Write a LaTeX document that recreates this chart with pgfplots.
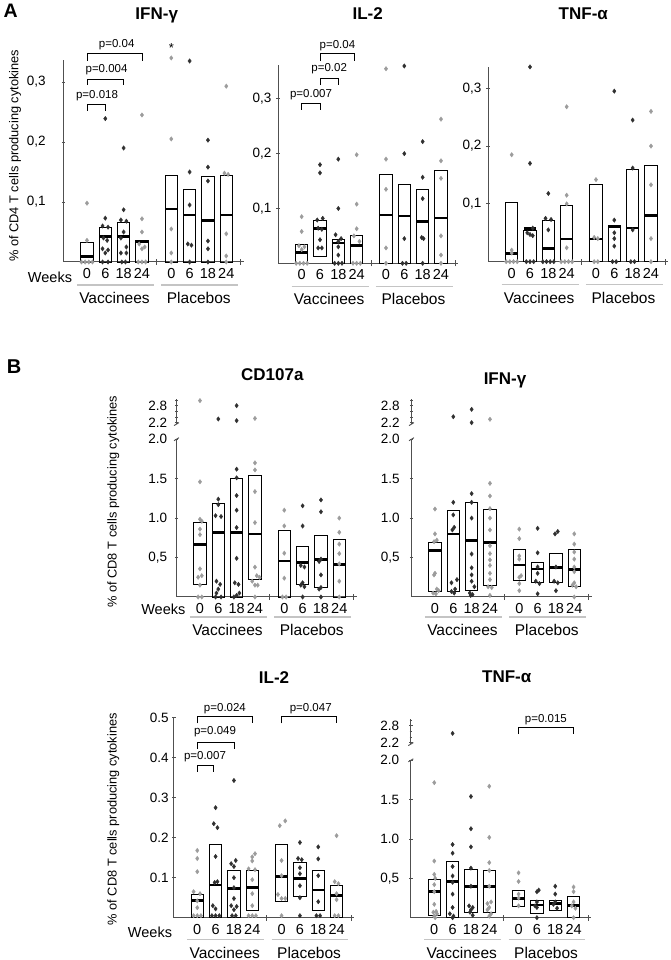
\documentclass[border=0pt]{standalone}
\usepackage{fontspec}
\setmainfont{Liberation Sans}
\usepackage{pgfplots}
\pgfplotsset{compat=1.18}
\usepgfplotslibrary{statistics}

\definecolor{axiscol}{HTML}{505050}
\definecolor{ptdark}{HTML}{303030}
\definecolor{ptgray}{HTML}{9C9C9C}
\definecolor{grpline}{HTML}{C4C4C4}

\newcommand{\tickfont}{\fontsize{13.5}{13.5}\selectfont}
\newcommand{\xfont}{\fontsize{14.5}{14.5}\selectfont}
\newcommand{\grpfont}{\fontsize{15.5}{15.5}\selectfont}
\newcommand{\titlefont}{\fontsize{17}{17}\selectfont\bfseries}
\newcommand{\ylabfont}{\fontsize{12.8}{12.8}\selectfont}
\newcommand{\pfont}{\fontsize{11.5}{11.5}\selectfont}

\pgfplotsset{
  panelbase/.style={anchor=south west, x=18.33pt, xmin=-1.28, xmax=8.55, clip=false,
    tick align=outside, major tick length=3.5pt, minor tick length=2.5pt,
    ytick style={axiscol, line width=0.8pt},
    yticklabel style={font=\tickfont, text=black}},
  nolinearrows/.style={axis line style={axiscol, line width=1pt, -},
    x axis line style={-}, y axis line style={-}},
  panel/.style={panelbase, ymin=0, axis x line=bottom, axis y line=left, nolinearrows,
    xtick={0,1,2,3,4.6,5.6,6.6,7.6}, xticklabels={0,6,18,24,0,6,18,24},
    xtick style={draw=none}, xticklabel style={font=\xfont, text=black, yshift=-1pt}},
  upper/.style={panelbase, y=28.3pt, ymin=2.15, ymax=3.05,
    axis x line=none, axis y line=left, nolinearrows, xtick=\empty,
    ytick={2.2,2.8}, yticklabels={2.2,2.8}, minor ytick={2.4,2.6,3.0}},
  dk/.style={only marks, mark=diamond*, mark size=2.2pt, color=ptdark},
  gy/.style={only marks, mark=diamond*, mark size=2.2pt, color=ptgray},
}

% box: position, lower, median, upper
\newcommand{\bx}[4]{\addplot[black, line width=0.9pt, boxplot prepared={draw direction=y, draw position=#1,
  lower whisker=#2, lower quartile=#2, median=#3, upper quartile=#4, upper whisker=#4,
  box extend=0.68, whisker extend=0, every median/.style={line width=2.6pt}}] coordinates {};}
% separator ticks, group lines and names
\newcommand{\deco}[2]{%
  \draw[axiscol, line width=0.9pt] ([yshift=-3pt]axis cs:3.8,0) -- ([yshift=3pt]axis cs:3.8,0);
  \draw[axiscol, line width=0.9pt] ([yshift=-3pt]axis cs:8.4,0) -- ([yshift=3pt]axis cs:8.4,0);
  \draw[grpline, line width=1.3pt] ([yshift=-#1pt]axis cs:-0.55,0) -- ([yshift=-#1pt]axis cs:3.65,0);
  \draw[grpline, line width=1.3pt] ([yshift=-#1pt]axis cs:4.05,0) -- ([yshift=-#1pt]axis cs:8.25,0);
  \node[font=\grpfont] at ([yshift=-#2pt]axis cs:1.5,0) {Vaccinees};
  \node[font=\grpfont] at ([yshift=-#2pt]axis cs:6.1,0) {Placebos};}
% bracket: x1, x2, top, drop, text x, text y, text
\newcommand{\br}[7]{%
  \draw[black, line width=0.7pt] (axis cs:#1,#4) |- (axis cs:#2,#3) -- (axis cs:#2,#4);
  \node[font=\pfont] at (axis cs:#5,#6) {#7};}
\newcommand{\brk}[1]{%
  \draw[axiscol, line width=0.9pt] ([xshift=-2.5pt,yshift=-1.5pt]axis cs:-1.28,#1) -- ([xshift=2.5pt,yshift=1.5pt]axis cs:-1.28,#1);}

\begin{document}
\begin{tikzpicture}
\useasboundingbox (0,0) rectangle (671pt,960pt);

% ---------- A: IFN-gamma ----------
\begin{axis}[panel, at={(63.5pt,698pt)}, y=600pt, ymax=0.337,
  ytick={0.1,0.2,0.3}, yticklabels={{0,1},{0,2},{0,3}}, yticklabel style={xshift=-12.5pt}]
\bx{0}{0}{0.009}{0.033}
\bx{1}{0}{0.042}{0.058}
\bx{2}{0}{0.042}{0.066}
\bx{3}{0}{0.034}{0.036}
\bx{4.6}{0}{0.088}{0.145}
\bx{5.6}{0}{0.078}{0.121}
\bx{6.6}{0}{0.069}{0.142}
\bx{7.6}{0}{0.078}{0.145}
\addplot[dk] coordinates {(1,0.239) (1,0.073) (0.85,0.060) (1.15,0.058) (0.9,0.040) (1.1,0.036) (0.85,0.022) (1.15,0.020) (1,0.015) (0.85,0) (1.15,0)
 (2,0.190) (2,0.087) (1.85,0.070) (2.15,0.068) (2,0.050) (1.85,0.040) (2.15,0.025) (1.85,0.015) (2.15,0.015) (1.9,0) (2.1,0)
 (5.6,0.335) (5.6,0.150) (5.6,0.095) (5.5,0.030) (5.7,0.028) (5.6,0)
 (6.6,0.203) (6.6,0.158) (6.6,0.135) (6.6,0.035) (6.6,0.022) (6.6,0)};
\addplot[gy] coordinates {(0,0.098) (0,0.036) (-0.3,0) (-0.1,0) (0.1,0) (0.3,0)
 (3,0.245) (3,0.072) (3,0.050) (2.85,0.030) (3.15,0.025) (3,0.022) (2.8,0) (3,0) (3.2,0)
 (4.6,0.340) (4.6,0.205) (4.6,0.055) (4.6,0.015) (4.6,0)
 (7.6,0.293) (7.5,0.148) (7.7,0.146) (7.6,0.047) (7.6,0.010) (7.6,0)};
\deco{23}{36}
\br{0}{1}{0.262}{0.252}{0.55}{0.278}{p=0.018}
\br{0}{2}{0.305}{0.295}{1.07}{0.320}{p=0.004}
\br{0}{3}{0.348}{0.335}{1.62}{0.362}{p=0.04}
\node[font=\fontsize{13}{13}\selectfont] at (axis cs:4.6,0.357) {*};
\end{axis}

% ---------- A: IL-2 ----------
\begin{axis}[panel, at={(278.2pt,696.7pt)}, y=548pt, ymax=0.362,
  ytick={0.1,0.2,0.3}, yticklabels={{0,1},{0,2},{0,3}}, yticklabel style={xshift=-1.5pt}]
\bx{0}{0}{0.020}{0.035}
\bx{1}{0.012}{0.063}{0.079}
\bx{2}{0}{0.037}{0.043}
\bx{3}{0}{0.033}{0.050}
\bx{4.6}{0}{0.088}{0.163}
\bx{5.6}{0}{0.086}{0.143}
\bx{6.6}{0}{0.076}{0.135}
\bx{7.6}{0}{0.083}{0.169}
\addplot[dk] coordinates {(1,0.180) (1,0.165) (1.15,0.082) (0.85,0.079) (0.9,0.064) (1.1,0.062) (1,0.043) (0.9,0.028) (1.1,0.028)
 (2,0.190) (2,0.100) (1.85,0.052) (2.15,0.045) (2,0.040) (2,0.030) (2,0.015) (1.8,0) (2,0) (2.2,0)
 (5.6,0.360) (5.6,0.200) (5.6,0.045) (5.5,0) (5.7,0)
 (6.6,0.222) (6.6,0.157) (6.6,0.118) (6.55,0.047) (6.65,0.045) (6.6,0)};
\addplot[gy] coordinates {(0,0.085) (0,0.058) (-0.15,0.032) (0.15,0.030) (0,0.025) (-0.3,0) (-0.1,0) (0.1,0) (0.3,0)
 (3,0.198) (3,0.108) (3,0.063) (2.85,0.050) (3.15,0.040) (2.8,0) (3,0) (3.2,0)
 (4.6,0.355) (4.6,0.190) (4.6,0.135) (4.6,0.028) (4.6,0)
 (7.6,0.263) (7.6,0.187) (7.6,0.155) (7.6,0.050) (7.6,0.015) (7.6,0)};
\deco{23}{36}
\br{0}{1}{0.292}{0.280}{0.51}{0.308}{p=0.007}
\br{1}{2}{0.338}{0.325}{1.50}{0.355}{p=0.02}
\br{1}{2.9}{0.383}{0.369}{1.95}{0.397}{p=0.04}
\end{axis}

% ---------- A: TNF-alpha ----------
\begin{axis}[panel, at={(488.2pt,698.3pt)}, y=578pt, ymax=0.337,
  ytick={0.1,0.2,0.3}, yticklabels={{0,1},{0,2},{0,3}}, yticklabel style={xshift=-1.5pt}]
\bx{0}{0}{0.014}{0.102}
\bx{1}{0}{0.057}{0.054}
\bx{2}{0}{0.023}{0.072}
\bx{3}{0}{0.039}{0.097}
\bx{4.6}{0}{0.039}{0.133}
\bx{5.6}{0}{0.062}{0.060}
\bx{6.6}{0}{0.058}{0.160}
\bx{7.6}{0}{0.080}{0.166}
\addplot[dk] coordinates {(1,0.337) (1,0.170) (1.15,0.058) (0.85,0.050) (1,0.047) (1.15,0.045) (0.8,0) (1,0) (1.2,0)
 (2,0.118) (1.85,0.075) (2.15,0.073) (2,0.055) (1.7,0) (1.9,0) (2.1,0) (2.3,0)
 (5.6,0.295) (5.6,0.072) (5.6,0.050) (5.6,0.040) (5.6,0.027) (5.5,0) (5.7,0)
 (6.6,0.245) (6.6,0.162) (6.6,0.055) (6.5,0) (6.7,0)};
\addplot[gy] coordinates {(0,0.185) (0,0.020) (0,0.015) (-0.3,0) (-0.1,0) (0.1,0) (0.3,0)
 (3,0.268) (3,0.115) (3,0.100) (3,0.024) (2.7,0) (2.9,0) (3.1,0) (3.3,0)
 (4.6,0.142) (4.5,0.042) (4.7,0.040) (4.5,0) (4.7,0)
 (7.6,0.260) (7.6,0.200) (7.6,0.133) (7.6,0.040) (7.6,0)};
\deco{23}{36}
\end{axis}

% ---------- B: CD107a ----------
\begin{axis}[panel, at={(176.5pt,363pt)}, y=78.9pt, ymax=2.0,
  ytick={0.5,1,1.5,2}, yticklabels={{0,5},1.0,1.5,2.0}, yticklabel style={xshift=-4pt}]
\bx{0}{0.162}{0.669}{0.943}
\bx{1}{0}{0.817}{1.18}
\bx{2}{0}{0.817}{1.505}
\bx{3}{0.22}{0.80}{1.543}
\bx{4.6}{0}{0.458}{0.842}
\bx{5.6}{0.155}{0.437}{0.64}
\bx{6.6}{0.124}{0.479}{0.779}
\bx{7.6}{0}{0.415}{0.732}
\addplot[dk] coordinates {(1,1.24) (1,1.17) (0.85,1.03) (1.15,1.02) (0.9,0.20) (1.1,0.16) (1,0.10) (0.9,0.05) (0.85,0) (1.15,0)
 (2,1.62) (2,1.51) (2,1.285) (2,1.10) (2,0.88) (2,0.49) (1.9,0.18) (2.1,0.16) (2.15,0.05) (2,0.02) (1.85,0)
 (5.6,1.155) (5.6,0.90) (5.5,0.40) (5.7,0.38) (5.6,0.18) (5.5,0.15) (5.7,0.13) (5.6,0)
 (6.6,1.23) (6.6,1.08) (6.6,0.48) (6.5,0.45) (6.6,0.28) (6.6,0.12) (6.5,0.10) (6.6,0)};
\addplot[gy] coordinates {(0,1.46) (0,0.985) (0.1,0.96) (0,0.86) (0,0.79) (0,0.357) (0.1,0.27) (-0.1,0.25) (0,0.15) (-0.1,0) (0.1,0)
 (3,1.70) (3,1.61) (3,1.336) (3,0.943) (3,0.378) (3.1,0.27) (3.25,0.25) (2.85,0.20) (3,0.15) (3.15,0.15) (3,0)
 (4.6,1.10) (4.6,0.90) (4.6,0.555) (4.6,0.238) (4.5,0) (4.7,0)
 (7.6,1.0) (7.6,0.82) (7.6,0.67) (7.6,0.55) (7.6,0.42) (7.6,0.20) (7.6,0)};
\deco{20}{33}
\brk{2}
\end{axis}
\begin{axis}[upper, at={(176.5pt,535.9pt)}, yticklabel style={xshift=-4pt}]
\addplot[dk] coordinates {(1,2.33) (2,2.80) (2,2.27)};
\addplot[gy] coordinates {(0,2.98) (3,2.35)};
\brk{2.15}
\end{axis}

% ---------- B: IFN-gamma ----------
\begin{axis}[panel, at={(411.5pt,363pt)}, y=78.9pt, ymax=2.0,
  ytick={0.5,1,1.5,2}, yticklabels={{0,5},1.0,1.5,2.0}, yticklabel style={xshift=-6.5pt}]
\bx{0}{0.076}{0.587}{0.693}
\bx{1}{0.076}{0.80}{1.098}
\bx{2}{0.089}{0.714}{1.20}
\bx{3}{0.14}{0.689}{1.11}
\bx{4.6}{0.207}{0.405}{0.604}
\bx{5.6}{0.18}{0.355}{0.44}
\bx{6.6}{0.18}{0.372}{0.553}
\bx{7.6}{0.13}{0.35}{0.604}
\addplot[dk] coordinates {(1,1.20) (1,1.04) (1.05,0.883) (0.95,0.85) (1.2,0.22) (0.9,0.18) (1.1,0.10) (0.9,0.07) (1.05,0.05)
 (2,1.31) (2,1.20) (2,1.00) (2,0.545) (2,0.37) (2,0.28) (2,0.20) (2.15,0.13) (1.9,0.05) (2.05,0.03) (1.95,0.02)
 (5.6,0.87) (5.6,0.56) (5.6,0.38) (5.6,0.30) (5.5,0.20) (5.7,0.17) (5.6,0.04)
 (6.55,0.80) (6.7,0.83) (6.6,0.38) (6.5,0.20) (6.7,0.18) (6.6,0.08)};
\addplot[gy] coordinates {(0,1.115) (0,0.80) (0.1,0.72) (-0.05,0.70) (0,0.30) (-0.05,0.28) (0.1,0.10) (0.2,0.08) (-0.1,0.05) (0.05,0.04)
 (3,1.44) (3,1.28) (3,1.12) (3,1.00) (3,0.85) (3,0.65) (3,0.55) (3,0.47) (3,0.40) (3,0.30) (3,0.22) (2.9,0.13) (3.1,0.12) (3,0.02)
 (4.6,0.86) (4.6,0.74) (4.6,0.52) (4.6,0.48) (4.7,0.27) (4.6,0.25) (4.6,0.17) (4.6,0.08)
 (7.6,0.80) (7.6,0.67) (7.6,0.57) (7.6,0.48) (7.6,0.38) (7.6,0.32) (7.6,0.18) (7.5,0.15) (7.7,0.13) (7.6,0)};
\deco{20}{33}
\brk{2}
\end{axis}
\begin{axis}[upper, at={(411.5pt,535.9pt)}, yticklabel style={xshift=-6.5pt}]
\addplot[dk] coordinates {(1,2.41) (2,2.67) (2,2.20)};
\addplot[gy] coordinates {(3,2.32)};
\brk{2.15}
\end{axis}

% ---------- B: IL-2 ----------
\begin{axis}[panel, at={(173.8pt,42.3pt)}, y=400pt, ymax=0.5,
  ytick={0.1,0.2,0.3,0.4,0.5}, yticklabels={0.1,0.2,0.3,0.4,0.5}]
\bx{0}{0}{0.0425}{0.058}
\bx{1}{0}{0.082}{0.183}
\bx{2}{0}{0.073}{0.119}
\bx{3}{0.019}{0.075}{0.117}
\bx{4.6}{0.04}{0.1025}{0.182}
\bx{5.6}{0.0525}{0.098}{0.138}
\bx{6.6}{0.017}{0.069}{0.119}
\bx{7.6}{0}{0.055}{0.081}
\addplot[dk] coordinates {(1,0.275) (0.9,0.235) (1.1,0.225) (1,0.153) (1.1,0.090) (0.95,0.088) (0.85,0.030) (1,0.022) (0.8,0.005) (1,0.005) (1.2,0.005)
 (2,0.343) (2.1,0.143) (1.85,0.135) (2,0.128) (2,0.100) (2,0.075) (2,0.048) (1.85,0.030) (2.15,0.028) (2,0.020) (1.9,0.005) (2.1,0.005)
 (5.6,0.188) (5.5,0.148) (5.7,0.145) (5.6,0.125) (5.6,0.110) (5.6,0.080) (5.6,0.050) (5.6,0.005)
 (6.6,0.177) (6.6,0.147) (6.6,0.105) (6.6,0.040) (6.5,0.005) (6.7,0.005)};
\addplot[gy] coordinates {(0,0.168) (0,0.148) (0,0.115) (-0.2,0.065) (0.15,0.060) (0,0.042) (0,0.025) (-0.2,0.005) (0,0.005) (0.2,0.005)
 (3.15,0.160) (3,0.152) (3,0.142) (2.8,0.122) (3.15,0.120) (3,0.095) (3,0.060) (3,0.030) (2.8,0.005) (3,0.005) (3.2,0.005)
 (4.5,0.230) (4.8,0.242) (4.6,0.143) (4.6,0.105) (4.4,0.058) (4.6,0.048) (4.8,0.048) (4.6,0.005)
 (7.6,0.205) (7.5,0.090) (7.7,0.085) (7.6,0.060) (7.6,0.045) (7.5,0.005) (7.7,0.005)};
\deco{22}{35}
\br{0}{0.9}{0.382}{0.365}{0.42}{0.403}{p=0.007}
\br{0}{2}{0.438}{0.423}{0.97}{0.465}{p=0.049}
\br{0}{3}{0.5025}{0.486}{1.51}{0.523}{p=0.024}
\br{4.6}{7.6}{0.5025}{0.486}{6.19}{0.523}{p=0.047}
\end{axis}

% ---------- B: TNF-alpha ----------
\begin{axis}[panel, at={(410.8pt,42.3pt)}, y=78.7pt, ymax=2.0,
  ytick={0.5,1,1.5,2}, yticklabels={{0,5},1.0,1.5,2.0}, yticklabel style={xshift=-6.5pt}]
\bx{0}{0.025}{0.33}{0.49}
\bx{1}{0}{0.458}{0.712}
\bx{2}{0.068}{0.394}{0.619}
\bx{3}{0.064}{0.40}{0.597}
\bx{4.6}{0.148}{0.246}{0.352}
\bx{5.6}{0.055}{0.161}{0.225}
\bx{6.6}{0.097}{0.182}{0.216}
\bx{7.6}{0}{0.152}{0.267}
\addplot[dk] coordinates {(1,0.93) (1,0.82) (1,0.65) (1,0.53) (1,0.45) (1,0.30) (1,0.13) (0.85,0.05) (1.05,0.02) (1,0)
 (2,1.54) (2,1.13) (2,0.90) (2,0.63) (2,0.40) (1.9,0.15) (2.1,0.13) (2,0.10) (1.95,0.07) (2.1,0.03)
 (5.7,0.35) (5.6,0.33) (5.6,0.20) (5.5,0.15) (5.6,0.13) (5.6,0)
 (6.6,0.40) (6.6,0.30) (6.6,0.20) (6.5,0.17) (6.7,0.12)};
\addplot[gy] coordinates {(0,1.716) (0,0.72) (0,0.55) (0.05,0.50) (0,0.42) (0,0.33) (0,0.17) (0.1,0.08) (-0.05,0.07) (0.15,0.05) (0,0.02) (0.05,0)
 (3,1.67) (3,1.02) (3,0.70) (3,0.60) (3,0.40) (3.1,0.20) (2.9,0.18) (3,0.13) (2.9,0.10) (3.1,0.05) (3,0.02)
 (4.6,0.57) (4.6,0.46) (4.6,0.30) (4.6,0.25) (4.6,0.15)
 (7.6,0.39) (7.6,0.33) (7.6,0.20) (7.5,0.15) (7.7,0.12) (7.6,0)};
\deco{22}{35}
\brk{2}
\br{4.6}{7.6}{2.414}{2.334}{6.09}{2.51}{p=0.015}
\end{axis}
\begin{axis}[upper, at={(410.8pt,215.9pt)}, yticklabel style={xshift=-6.5pt}]
\addplot[dk] coordinates {(1,2.53)};
\brk{2.15}
\end{axis}

% ---------- text ----------
\node[font=\fontsize{19.5}{19.5}\selectfont\bfseries, anchor=base west] at (0pt,942.7pt) {A};
\node[font=\fontsize{20}{20}\selectfont\bfseries, anchor=base west] at (3.3pt,586.7pt) {B};
\node[font=\titlefont, anchor=base] at (156.7pt,940pt) {IFN-γ};
\node[font=\titlefont, anchor=base] at (367.7pt,940pt) {IL-2};
\node[font=\titlefont, anchor=base] at (583.3pt,940pt) {TNF-α};
\node[font=\titlefont, anchor=base] at (272.3pt,579.3pt) {CD107a};
\node[font=\titlefont, anchor=base] at (505pt,575.7pt) {IFN-γ};
\node[font=\titlefont, anchor=base] at (274pt,276pt) {IL-2};
\node[font=\titlefont, anchor=base] at (506.7pt,277.7pt) {TNF-α};
\node[font=\xfont] at (50pt,683pt) {Weeks};
\node[font=\xfont] at (163.3pt,350.7pt) {Weeks};
\node[font=\xfont] at (150pt,27.3pt) {Weeks};
\node[font=\ylabfont, rotate=90] at (15pt,804.2pt) {\% of CD4 T cells producing cytokines};
\node[font=\ylabfont, rotate=90] at (113.3pt,458.3pt) {\% of CD8 T cells producing cytokines};
\node[font=\ylabfont, rotate=90] at (113.3pt,140.8pt) {\% of CD8 T cells producing cytokines};
\end{tikzpicture}
\end{document}
